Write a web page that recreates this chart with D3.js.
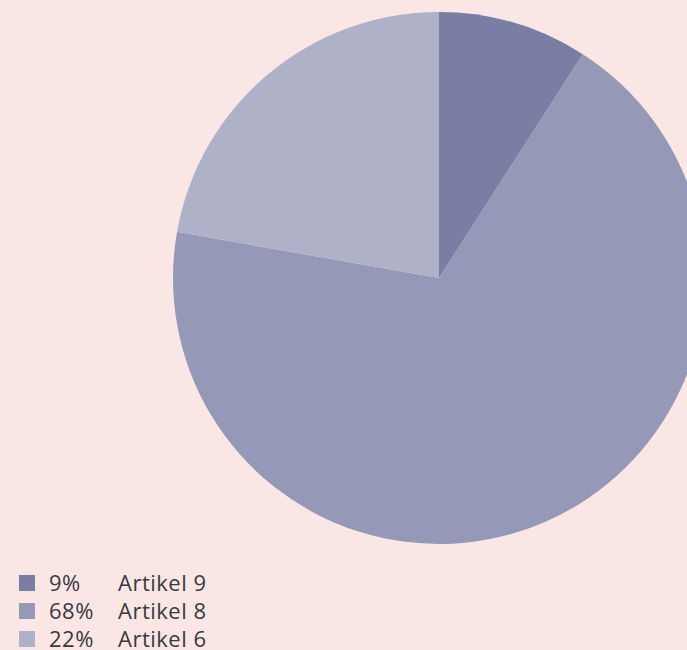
<!DOCTYPE html>
<html>
<head>
<meta charset="utf-8">
<script src="https://cdn.jsdelivr.net/npm/d3@7"></script>
<style>
  html, body { margin: 0; padding: 0; background: #fbe6e6; overflow: hidden; }
  svg { display: block; }
  .legend text { font-family: "Open Sans", sans-serif; font-size: 22px; letter-spacing: 0.5px; fill: #3a3a3c; }
</style>
</head>
<body>
<svg id="chart" width="687" height="650"></svg>
<script>
// chart data
const labels = ["Artikel 9", "Artikel 8", "Artikel 6"];
const values = [9, 68, 22];
const colors = ["#7a7ea4", "#9598b7", "#afb1c8"];

const svg = d3.select("#chart");

// pie, starting at 12 o'clock and going clockwise
let pie = d3.pie().sort(null).value(d => d.value);
let arc = d3.arc().innerRadius(0).outerRadius(266);

let data = values.map(function(v, i) {
    return { label: labels[i], value: v, color: colors[i] };
});

let pieG = svg.append("g")
    .attr("transform", "translate(439,278)");

pieG.selectAll("path")
    .data(pie(data))
    .enter().append("path")
    .attr("d", arc)
    .attr("fill", d => d.data.color);

// legend
let legend = svg.append("g").attr("class", "legend")
    .attr("transform", "translate(19,575)");

let row = legend.selectAll("g")
    .data(data)
    .enter().append("g")
    .attr("transform", (d, i) => "translate(0," + i * 28 + ")");

row.append("rect")
    .attr("width", 16).attr("height", 16)
    .attr("fill", d => d.color);

row.append("text")
    .attr("x", 30).attr("y", 16)
    .text(d => d.value + "%");

row.append("text")
    .attr("x", 99).attr("y", 16)
    .text(d => d.label);
</script>
</body>
</html>
